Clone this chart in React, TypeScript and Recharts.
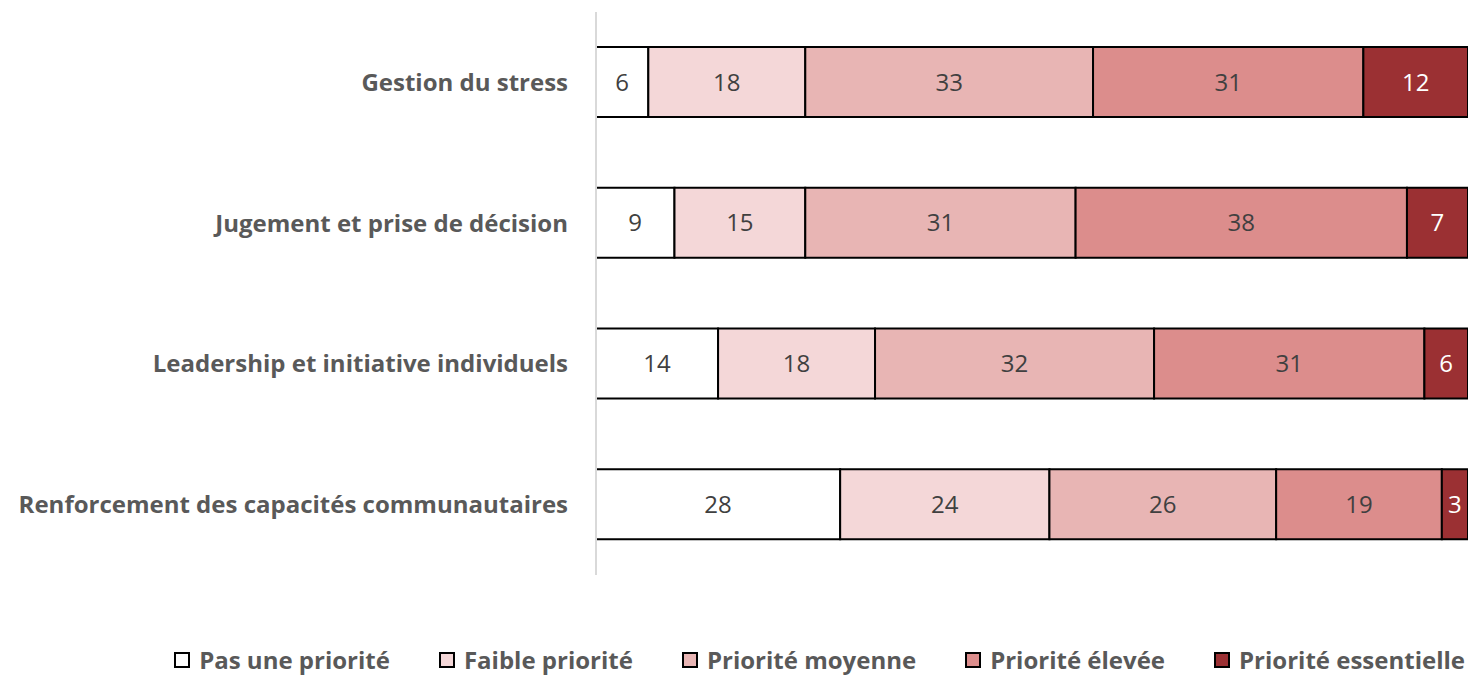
import { BarChart, Bar, XAxis, YAxis, LabelList } from 'recharts';

const categories = [
  'Gestion du stress',
  'Jugement et prise de décision',
  'Leadership et initiative individuels',
  'Renforcement des capacités communautaires',
];

const seriesNames = [
  'Pas une priorité',
  'Faible priorité',
  'Priorité moyenne',
  'Priorité élevée',
  'Priorité essentielle',
];

const pasUnePriorite = [6, 9, 14, 28];
const faiblePriorite = [18, 15, 18, 24];
const prioriteMoyenne = [33, 31, 32, 26];
const prioriteElevee = [31, 38, 31, 19];
const prioriteEssentielle = [12, 7, 6, 3];

const seriesValues = [pasUnePriorite, faiblePriorite, prioriteMoyenne, prioriteElevee, prioriteEssentielle];

const COLORS = ['#ffffff', '#f4d7d8', '#e8b5b4', '#dc8d8c', '#9b3033'];
const LABEL_COLORS = ['#404040', '#404040', '#404040', '#404040', '#ffffff'];

const FONT = '"Open Sans", "Liberation Sans", sans-serif';

const data = categories.map((name, i) => {
  const row: Record<string, string | number> = { name };
  seriesNames.forEach((s, j) => {
    row[s] = seriesValues[j][i];
  });
  return row;
});

export default function App() {
  return (
    <div style={{ position: 'absolute', left: 0, top: 0, width: 1468, height: 675, background: '#fff', fontFamily: FONT, overflow: 'hidden' }}>
      <BarChart
        width={1468}
        height={675}
        data={data}
        layout="vertical"
        margin={{ top: 12, right: 0, bottom: 100, left: 0 }}
        barSize={70}
      >
        <XAxis type="number" domain={[0, 100]} allowDataOverflow hide />
        <YAxis
          type="category"
          dataKey="name"
          width={596}
          tickLine={false}
          tickMargin={22}
          axisLine={{ stroke: '#d9d9d9', strokeWidth: 2 }}
          tick={{ fill: '#595959', fontSize: 24, fontWeight: 700, fontFamily: FONT }}
        />
        {seriesNames.map((s, j) => (
          <Bar
            key={s}
            dataKey={s}
            stackId="a"
            fill={COLORS[j]}
            stroke="#000"
            strokeWidth={2}
            isAnimationActive={false}
          >
            <LabelList
              dataKey={s}
              position="center"
              fill={LABEL_COLORS[j]}
              fontSize={24}
              fontFamily={FONT}
            />
          </Bar>
        ))}
      </BarChart>
      <div
        style={{
          position: 'absolute',
          left: 0,
          top: 646,
          width: 1468,
          display: 'flex',
          justifyContent: 'flex-end',
          gap: 49,
          paddingRight: 3,
          boxSizing: 'border-box',
        }}
      >
        {seriesNames.map((s, j) => (
          <div key={s} style={{ display: 'flex', alignItems: 'center', gap: 9 }}>
            <span
              style={{
                display: 'inline-block',
                width: 12,
                height: 12,
                background: COLORS[j],
                border: '2px solid #000',
              }}
            />
            <span style={{ color: '#595959', fontSize: 24, fontWeight: 700, lineHeight: '28px' }}>{s}</span>
          </div>
        ))}
      </div>
    </div>
  );
}
